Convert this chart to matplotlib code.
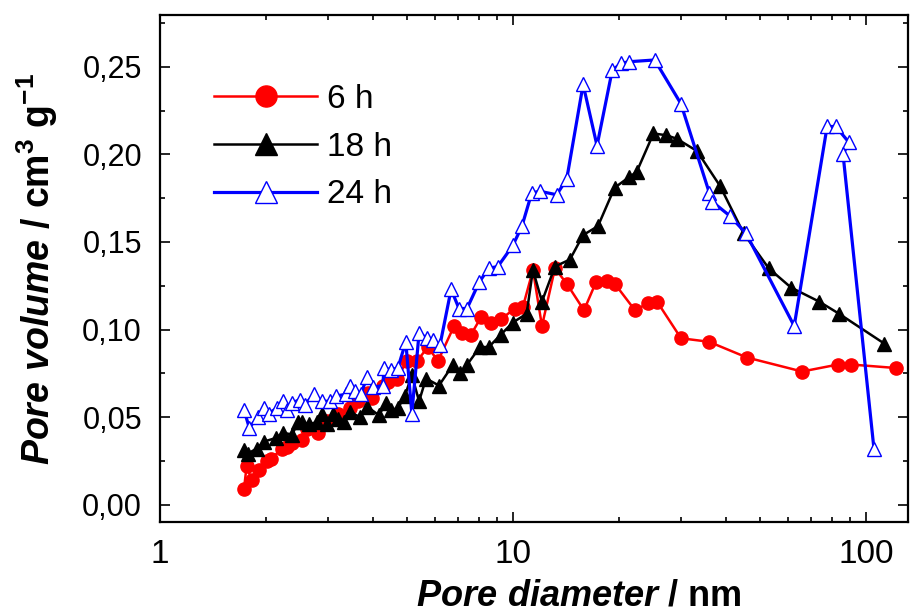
import matplotlib
matplotlib.use("Agg")
import matplotlib.pyplot as plt
from matplotlib.ticker import FuncFormatter, LogLocator, MultipleLocator, NullFormatter

# pore size distributions
d_6h = [1.73, 1.76, 1.82, 1.91, 2.01, 2.06, 2.22, 2.29, 2.37, 2.53, 2.61, 2.80, 2.97,
        3.19, 3.45, 3.64, 3.88, 3.99, 4.28, 4.43, 4.69, 5.01, 5.35, 5.74, 6.13, 6.81,
        7.17, 7.60, 8.12, 8.66, 9.25, 10.13, 10.67, 11.39, 12.08, 13.15, 14.22, 15.89,
        17.18, 18.46, 19.45, 22.16, 24.13, 25.58, 29.92, 35.9, 46.0, 65.9, 83.3, 90.7,
        121.6]
v_6h = [0.009, 0.022, 0.014, 0.020, 0.025, 0.026, 0.032, 0.033, 0.035, 0.037, 0.043,
        0.041, 0.048, 0.052, 0.055, 0.059, 0.064, 0.061, 0.068, 0.070, 0.072, 0.082,
        0.082, 0.090, 0.082, 0.102, 0.098, 0.097, 0.107, 0.104, 0.106, 0.112, 0.113,
        0.134, 0.102, 0.135, 0.126, 0.111, 0.127, 0.128, 0.126, 0.111, 0.115, 0.116,
        0.095, 0.093, 0.084, 0.076, 0.080, 0.080, 0.078]

d_18h = [1.73, 1.77, 1.88, 1.97, 2.13, 2.23, 2.37, 2.46, 2.53, 2.65, 2.78, 2.87, 2.97,
         3.09, 3.19, 3.32, 3.45, 3.68, 3.86, 4.17, 4.37, 4.51, 4.72, 4.94, 5.17, 5.42,
         5.67, 6.17, 6.77, 7.08, 7.42, 8.06, 8.54, 9.23, 9.99, 10.93, 11.39, 12.08,
         13.15, 14.5, 15.8, 17.4, 19.4, 21.3, 22.4, 25.0, 27.2, 29.1, 33.2, 38.6, 45.0,
         53.0, 61.3, 73.6, 83.9, 112.6]
v_18h = [0.031, 0.029, 0.032, 0.036, 0.038, 0.041, 0.040, 0.047, 0.047, 0.046, 0.047,
         0.052, 0.046, 0.052, 0.049, 0.047, 0.053, 0.050, 0.056, 0.051, 0.058, 0.054,
         0.055, 0.062, 0.074, 0.059, 0.072, 0.068, 0.080, 0.075, 0.080, 0.090, 0.090,
         0.097, 0.104, 0.109, 0.134, 0.116, 0.136, 0.140, 0.154, 0.159, 0.181, 0.187,
         0.190, 0.212, 0.211, 0.209, 0.202, 0.182, 0.155, 0.135, 0.124, 0.116, 0.109,
         0.092]

d_24h = [1.73, 1.79, 1.90, 1.97, 2.03, 2.14, 2.23, 2.29, 2.37, 2.49, 2.57, 2.73, 2.87,
         3.03, 3.15, 3.36, 3.45, 3.56, 3.71, 3.86, 4.01, 4.28, 4.31, 4.51, 4.72, 4.97,
         5.17, 5.42, 5.71, 5.93, 6.21, 6.68, 7.03, 7.41, 8.02, 8.54, 9.06, 9.99, 10.6,
         11.3, 11.9, 13.3, 14.2, 15.8, 17.3, 19.1, 20.2, 21.3, 25.2, 29.9, 36.0, 36.7,
         41.1, 45.7, 62.6, 77.6, 82.1, 89.4, 86.1, 105.3]
v_24h = [0.054, 0.044, 0.050, 0.055, 0.052, 0.055, 0.059, 0.054, 0.058, 0.060, 0.057,
         0.063, 0.059, 0.059, 0.062, 0.063, 0.068, 0.065, 0.063, 0.073, 0.067, 0.068,
         0.078, 0.077, 0.078, 0.093, 0.052, 0.098, 0.095, 0.094, 0.091, 0.123, 0.112,
         0.112, 0.127, 0.135, 0.136, 0.148, 0.159, 0.178, 0.179, 0.177, 0.186, 0.240,
         0.205, 0.248, 0.252, 0.253, 0.254, 0.229, 0.178, 0.173, 0.165, 0.155, 0.102,
         0.216, 0.216, 0.207, 0.200, 0.032]

labels = ["6 h", "18 h", "24 h"]

plt.rcParams["font.family"] = ["Liberation Sans", "DejaVu Sans"]
plt.rcParams["mathtext.fontset"] = "custom"
plt.rcParams["mathtext.rm"] = "Liberation Sans:bold"
plt.rcParams["mathtext.it"] = "Liberation Sans:bold:italic"
plt.rcParams["mathtext.bf"] = "Liberation Sans:bold"
plt.rcParams["mathtext.default"] = "rm"

fig = plt.figure(figsize=(9.12, 6.12), dpi=100)
ax = fig.add_axes([0.1754, 0.147, 0.8202, 0.8285])

ax.plot(d_6h, v_6h, color="red", lw=1.8, marker="o", ms=9.5, mec="red", mfc="red",
        label=labels[0])
ax.plot(d_18h, v_18h, color="black", lw=1.8, marker="^", ms=9.5, mec="black",
        mfc="black", label=labels[1])
ax.plot(d_24h, v_24h, color="blue", lw=2.3, marker="^", ms=9.5, mec="blue", mew=1.0,
        mfc="white", label=labels[2])

ax.set_xscale("log")
ax.set_xlim(1, 131.5)
ax.set_ylim(-0.010, 0.2797)

ax.xaxis.set_major_locator(LogLocator(base=10))
ax.xaxis.set_minor_locator(LogLocator(base=10, subs=range(2, 10)))
ax.xaxis.set_major_formatter(FuncFormatter(lambda v, p: f"{v:g}"))
ax.xaxis.set_minor_formatter(NullFormatter())
ax.yaxis.set_major_locator(MultipleLocator(0.05))
ax.yaxis.set_minor_locator(MultipleLocator(0.025))
ax.yaxis.set_major_formatter(FuncFormatter(lambda v, p: f"{v:.2f}".replace(".", ",")))

ax.tick_params(which="both", direction="in", top=True, right=True, width=1.2)
ax.tick_params(which="major", length=7)
ax.tick_params(axis="y", which="major", labelsize=22, pad=13)
ax.tick_params(axis="x", which="major", labelsize=24, pad=12)
ax.tick_params(which="minor", length=3.5)
for s in ax.spines.values():
    s.set_linewidth(1.6)

ax.set_xlabel(r"$\mathit{Pore\ diameter}$ / nm", fontsize=26, fontweight="bold")
ax.set_ylabel(r"$\mathit{Pore\ volume}$ / cm$^{3}$ g$^{-1}$", fontsize=27,
              fontweight="bold")
ax.xaxis.set_label_coords(0.56, -0.112)
ax.yaxis.set_label_coords(-0.133, 0.5)

ax.legend(loc="upper left", bbox_to_anchor=(0.05, 0.897), frameon=False, fontsize=24,
          handlelength=3.1, handletextpad=0.3, labelspacing=0.5, borderpad=0,
          markerscale=1.6)

fig.savefig("out.png", dpi=100)
